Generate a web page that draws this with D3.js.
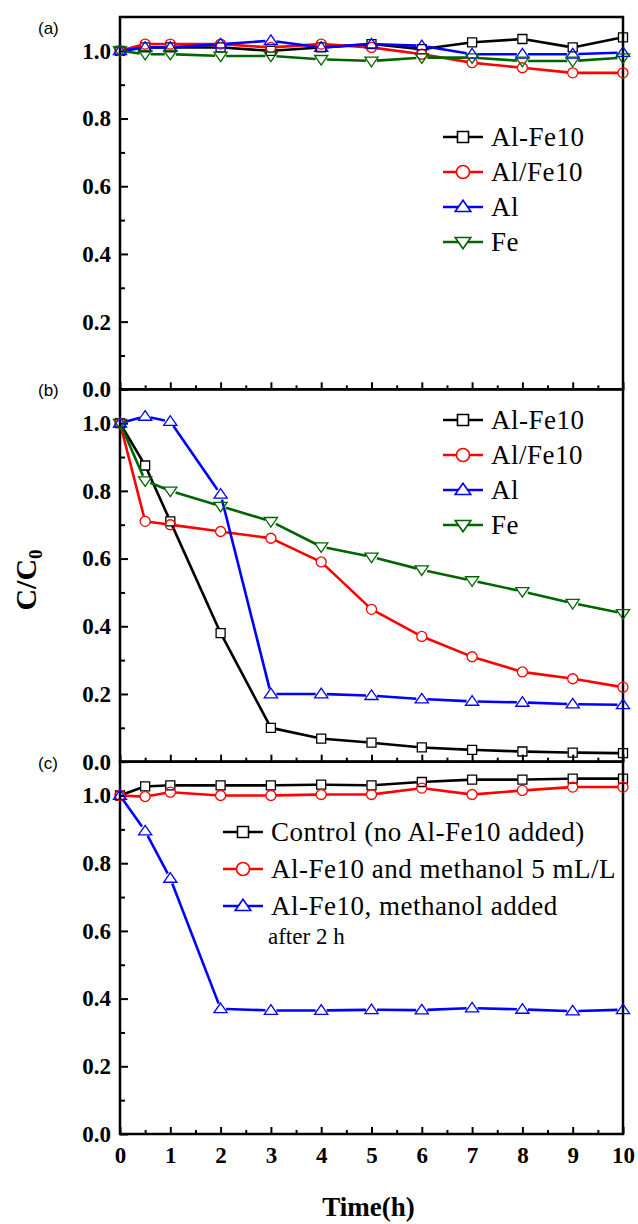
<!DOCTYPE html>
<html>
<head>
<meta charset="utf-8">
<title>C/C0 vs time</title>
<script src="https://cdn.jsdelivr.net/npm/d3@7"></script>
<style>
  body { margin: 0; background: #fff; }
  .tick line { stroke: #000; stroke-width: 2; }
</style>
</head>
<body>
<svg id="chart" width="638" height="1224"></svg>
<script>
// time points (h)
var times = [0, 0.5, 1, 2, 3, 4, 5, 6, 7, 8, 9, 10];

// panel (a)
var aAlFe10  = [1.0, 1.01, 1.01, 1.01, 1.0, 1.01, 1.02, 1.005, 1.025, 1.035, 1.01, 1.04];
var aAlSFe10 = [1.0, 1.02, 1.02, 1.02, 1.01, 1.02, 1.01, 0.99, 0.965, 0.95, 0.935, 0.935];
var aAl      = [1.0, 1.01, 1.01, 1.02, 1.03, 1.01, 1.02, 1.015, 0.99, 0.99, 0.99, 0.995];
var aFe      = [1.0, 0.99, 0.99, 0.985, 0.985, 0.975, 0.97, 0.98, 0.98, 0.97, 0.97, 0.98];

// panel (b)
var bAlFe10  = [1.0, 0.875, 0.71, 0.38, 0.10, 0.068, 0.056, 0.042, 0.035, 0.03, 0.027, 0.025];
var bAlSFe10 = [1.0, 0.71, 0.70, 0.68, 0.66, 0.59, 0.45, 0.37, 0.31, 0.265, 0.245, 0.22];
var bAl      = [1.0, 1.02, 1.005, 0.79, 0.20, 0.20, 0.195, 0.185, 0.178, 0.175, 0.17, 0.168];
var bFe      = [1.0, 0.83, 0.80, 0.755, 0.71, 0.635, 0.605, 0.567, 0.535, 0.503, 0.468, 0.438];

// panel (c)
var cControl  = [1.0, 1.027, 1.03, 1.03, 1.03, 1.032, 1.03, 1.04, 1.047, 1.047, 1.05, 1.05];
var cMethanol = [1.0, 0.997, 1.01, 1.0, 1.0, 1.003, 1.003, 1.022, 1.003, 1.015, 1.025, 1.025];
var cAfter2h  = [1.0, 0.895, 0.755, 0.37, 0.365, 0.365, 0.367, 0.366, 0.372, 0.368, 0.363, 0.367];

var yTicks = [0, 0.2, 0.4, 0.6, 0.8, 1.0];
var yMinor = [0.1, 0.3, 0.5, 0.7, 0.9];
var xTicks = [0, 1, 2, 3, 4, 5, 6, 7, 8, 9, 10];
var xMinor = [0.5, 1.5, 2.5, 3.5, 4.5, 5.5, 6.5, 7.5, 8.5, 9.5];

var black = "#000", red = "#ff0000", blue = "#0000ff", green = "#006400";

var panels = [
  { tag: "(a)", series: [
      { name: "Al-Fe10", v: aAlFe10, c: black, m: "square" },
      { name: "Al/Fe10", v: aAlSFe10, c: red, m: "circle" },
      { name: "Al", v: aAl, c: blue, m: "up" },
      { name: "Fe", v: aFe, c: green, m: "down" }],
    legend: { x: 443, y: 137, dy: 35 } },
  { tag: "(b)", series: [
      { name: "Al-Fe10", v: bAlFe10, c: black, m: "square" },
      { name: "Al/Fe10", v: bAlSFe10, c: red, m: "circle" },
      { name: "Al", v: bAl, c: blue, m: "up" },
      { name: "Fe", v: bFe, c: green, m: "down" }],
    legend: { x: 443, y: 420, dy: 35 } },
  { tag: "(c)", series: [
      { name: "Control (no Al-Fe10 added)", v: cControl, c: black, m: "square" },
      { name: "Al-Fe10 and methanol 5 mL/L", v: cMethanol, c: red, m: "circle" },
      { name: "Al-Fe10, methanol added", v: cAfter2h, c: blue, m: "up" }],
    legend: { x: 223, y: 832, dy: 37 } }
];

var svg = d3.select("#chart");
var left = 120, right = 623, top0 = 17, bottom = 1134;
var ph = (bottom - top0) / 3;

var x = d3.scaleLinear().domain([0, 10]).range([left, right]);

function markerPath(type, s) {
  var p = d3.path();
  if (type == "square") {
    p.rect(-s / 2, -s / 2, s, s);
  } else if (type == "circle") {
    p.arc(0, 0, s / 2, 0, 2 * Math.PI);
  } else if (type == "up") {
    var h = s * 0.87;
    p.moveTo(0, -h * 0.6); p.lineTo(s * 0.6, h * 0.4); p.lineTo(-s * 0.6, h * 0.4); p.closePath();
  } else {
    var h2 = s * 0.87;
    p.moveTo(0, h2 * 0.6); p.lineTo(s * 0.6, -h2 * 0.4); p.lineTo(-s * 0.6, -h2 * 0.4); p.closePath();
  }
  return p.toString();
}

var gap = { square: 5, circle: 5, up: 5.5, down: 5.5 };

// set font on every text element itself
function serifText(sel, size, bold) {
  sel.style("font-family", "'Liberation Serif', serif")
    .style("font-size", size + "px")
    .style("font-weight", bold ? "bold" : "normal")
    .attr("fill", "#000");
}

panels.forEach(function(panel, i) {
  var y0 = top0 + (i + 1) * ph, y1 = top0 + i * ph;
  var y = d3.scaleLinear().domain([0, 1.1]).range([y0, y1]);
  var g = svg.append("g");

  // axes (ticks pointing inside)
  var xa = g.append("g").attr("transform", "translate(0," + y0 + ")")
    .call(d3.axisBottom(x).tickValues(xTicks).tickSize(-7).tickPadding(13)
      .tickFormat(i == 2 ? d3.format("d") : function() { return ""; }));
  serifText(xa.selectAll("text"), 23, true);
  g.append("g").attr("transform", "translate(0," + y0 + ")")
    .call(d3.axisBottom(x).tickValues(xMinor).tickSize(-4).tickFormat(""));
  var ya = g.append("g").attr("transform", "translate(" + left + ",0)")
    .call(d3.axisLeft(y).tickValues(yTicks).tickSize(-8).tickPadding(9).tickFormat(d3.format(".1f")));
  serifText(ya.selectAll("text"), 23, true);
  g.append("g").attr("transform", "translate(" + left + ",0)")
    .call(d3.axisLeft(y).tickValues(yMinor).tickSize(-5).tickFormat(""));
  g.selectAll(".domain").remove();

  // frame
  g.append("rect").attr("x", left).attr("y", y1).attr("width", right - left).attr("height", y0 - y1)
    .attr("fill", "none").attr("stroke", "#000").attr("stroke-width", 2.5);

  g.append("text").attr("x", 38).attr("y", i == 0 ? 34 : y1 + 7)
    .style("font-family", "'Liberation Sans', sans-serif").style("font-size", "17px").text(panel.tag);

  // series
  panel.series.forEach(function(s) {
    var pts = times.map(function(t, k) { return [x(t), y(s.v[k])]; });
    var r = gap[s.m];
    for (var k = 1; k < pts.length; k++) {
      var a = pts[k - 1], b = pts[k];
      var dx = b[0] - a[0], dy = b[1] - a[1], len = Math.sqrt(dx * dx + dy * dy);
      if (len <= 2 * r) continue;
      var ux = dx / len, uy = dy / len;
      g.append("line")
        .attr("x1", a[0] + ux * r).attr("y1", a[1] + uy * r)
        .attr("x2", b[0] - ux * r).attr("y2", b[1] - uy * r)
        .attr("stroke", s.c).attr("stroke-width", 2.6);
    }
    g.selectAll(null).data(pts).enter().append("path")
      .attr("transform", function(d) { return "translate(" + d[0] + "," + d[1] + ")"; })
      .attr("d", markerPath(s.m, s.m == "circle" ? 10 : (s.m == "square" ? 9 : 11)))
      .attr("fill", "none").attr("stroke", s.c).attr("stroke-width", 1.3);
  });

  // legend
  var lg = g.append("g");
  panel.series.forEach(function(s, k) {
    var ly = panel.legend.y + k * panel.legend.dy;
    var lx = panel.legend.x;
    lg.append("line").attr("x1", lx).attr("x2", lx + 40).attr("y1", ly).attr("y2", ly)
      .attr("stroke", s.c).attr("stroke-width", 2.6);
    lg.append("path").attr("transform", "translate(" + (lx + 20) + "," + ly + ")")
      .attr("d", markerPath(s.m, s.m == "circle" ? 13 : (s.m == "square" ? 11 : 13)))
      .attr("fill", "#fff").attr("stroke", s.c).attr("stroke-width", 1.6);
    lg.append("text").attr("x", lx + 48).attr("y", ly + 9).text(s.name)
      .call(serifText, 27, false).style("letter-spacing", "0.5px");
  });
  if (i == 2) {
    lg.append("text").attr("x", 268).attr("y", 944).text("after 2 h").call(serifText, 23, false);
  }
});

// axis titles
svg.append("text").attr("x", left + (right - left) / 2 - 3).attr("y", 1216)
  .attr("text-anchor", "middle").text("Time(h)").call(serifText, 27, true);

var yl = svg.append("text").attr("transform", "translate(36,580) rotate(-90)")
  .attr("text-anchor", "middle").call(serifText, 30, true);
yl.append("tspan").text("C/C");
yl.append("tspan").style("font-size", "19px").attr("dy", 6).text("0");
</script>
</body>
</html>
